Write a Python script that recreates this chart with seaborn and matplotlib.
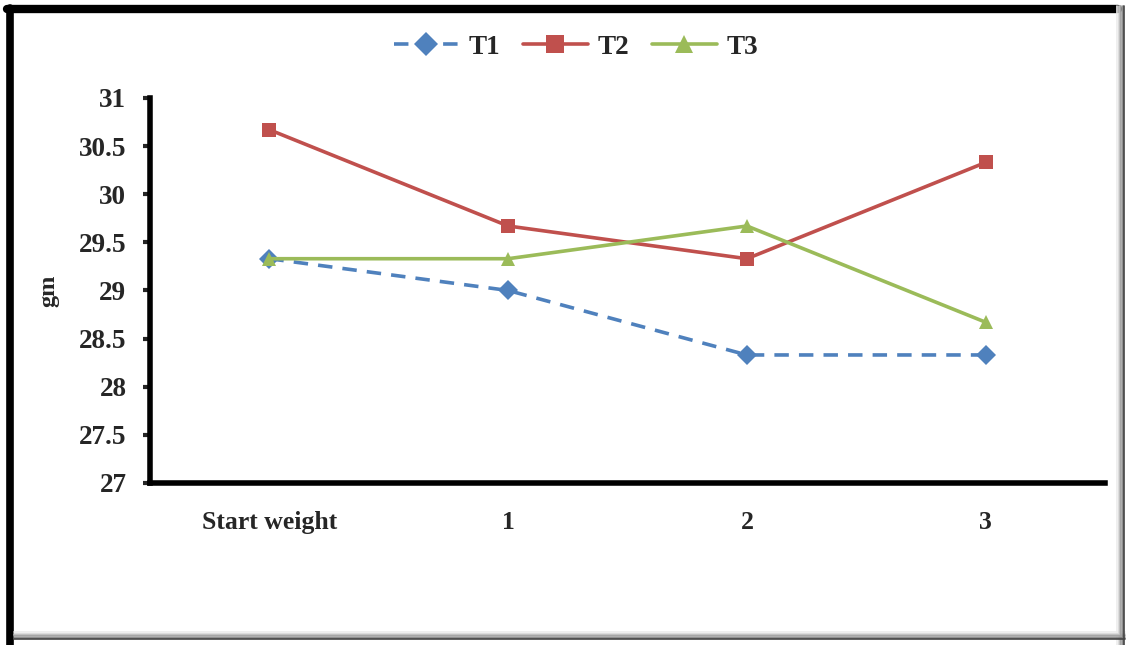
import matplotlib
matplotlib.use("Agg")
import matplotlib.pyplot as plt
import seaborn as sns
import pandas as pd
from matplotlib.lines import Line2D

# chart values
periods = ["Start weight", "1", "2", "3"]
t1 = [29.33, 29.0, 28.33, 28.33]
t2 = [30.67, 29.67, 29.33, 30.33]
t3 = [29.33, 29.33, 29.67, 28.67]
y_ticks = [27, 27.5, 28, 28.5, 29, 29.5, 30, 30.5, 31]

sns.set_theme(style="white")
plt.rcParams['font.family'] = ['Liberation Serif', 'DejaVu Serif']
plt.rcParams['font.weight'] = 'bold'

df = pd.DataFrame({
    "period": periods * 3,
    "gm": t1 + t2 + t3,
    "series": ["T1"] * 4 + ["T2"] * 4 + ["T3"] * 4,
})

palette = {"T1": "#4F81BD", "T2": "#C0504D", "T3": "#9BBB59"}
markers = {"T1": "D", "T2": "s", "T3": "^"}
dashes = {"T1": (4.0, 2.8), "T2": "", "T3": ""}

fig = plt.figure(figsize=(11.27, 6.45), dpi=100)
ax = fig.add_axes([0.1331, 0.2512, 0.8474, 0.5969])

sns.lineplot(data=df, x="period", y="gm", hue="series", style="series",
             palette=palette, markers=markers, dashes=dashes, sort=False,
             linewidth=2.6, markersize=10.5, markeredgewidth=0, ax=ax)

ax.set_xlim(-0.5, 3.5)
ax.set_ylim(27, 31)
ax.set_yticks(y_ticks)
ax.set_yticklabels([f"{v:g}" for v in y_ticks])
ax.set_xlabel("")
ax.set_ylabel("gm", fontsize=17.5, fontweight="bold", labelpad=14)

for side in ["top", "right"]:
    ax.spines[side].set_visible(False)
for side in ["left", "bottom"]:
    ax.spines[side].set_linewidth(4)
    ax.spines[side].set_color("black")

ax.tick_params(axis="y", direction="out", length=5, width=3, labelsize=19.5, pad=12, left=True)
ax.tick_params(axis="x", length=0, labelsize=18.5, pad=20)
for lab in ax.get_xticklabels() + ax.get_yticklabels():
    lab.set_fontweight("bold")

handles, labels = ax.get_legend_handles_labels()
ax.legend_.remove()
fig.legend(handles, labels, loc="center", bbox_to_anchor=(0.511, 0.927), ncol=3,
           frameon=False, handlelength=2.4, handletextpad=0.35, markerscale=1.2,
           columnspacing=0.85, prop={"weight": "bold", "size": 19.5})

# picture frame: black on left/top, grey shadow on right/bottom
fig.add_artist(Line2D([0.0093, 0.0093], [0.0, 0.988], transform=fig.transFigure,
                      color="black", linewidth=5.5))
fig.add_artist(Line2D([0.006, 0.992], [0.986, 0.986], transform=fig.transFigure,
                      color="black", linewidth=6))
for i, c in enumerate(["#ececec", "#d6d6d6", "#bdbdbd", "#a0a0a0", "#7a7a7a", "#444444"]):
    x = 0.9915 + i * 0.0012
    fig.add_artist(Line2D([x, x], [0.0, 0.99], transform=fig.transFigure,
                          color=c, linewidth=1.2))
    y = 0.02 - i * 0.0022
    fig.add_artist(Line2D([0.012, 0.998], [y, y], transform=fig.transFigure,
                          color=c, linewidth=1.2))

fig.savefig("out.png", dpi=100)
